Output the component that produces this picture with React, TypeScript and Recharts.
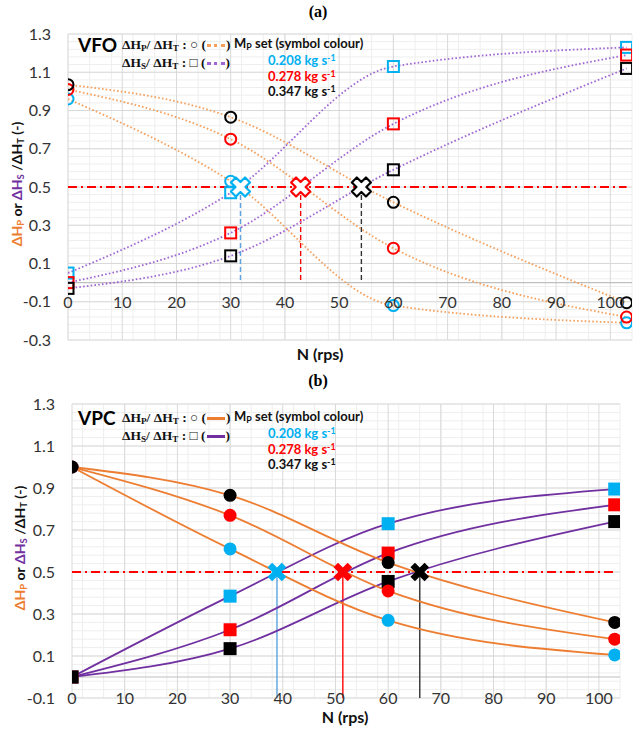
import React from 'react';
import {
  ComposedChart,
  Line,
  XAxis,
  YAxis,
  CartesianGrid,
  ReferenceLine,
  ReferenceDot,
} from 'recharts';

// Impeller speeds N (rps) at which each configuration was measured
const SPEEDS = [0, 30, 60, 103];

// Mass flow sets and their marker colours
const MASS_FLOWS = ['0.208', '0.278', '0.347'];
const MARKER_COLOURS = ['#00B0F0', '#FF0000', '#000000'];

// VFO: ΔHp/ΔHT per mass flow
const vfoHp208 = [0.96, 0.53, -0.12, -0.21];
const vfoHp278 = [1.01, 0.75, 0.18, -0.18];
const vfoHp347 = [1.035, 0.865, 0.42, -0.105];
// VFO: ΔHs/ΔHT per mass flow
const vfoHs208 = [0.05, 0.47, 1.13, 1.23];
const vfoHs278 = [0.0, 0.26, 0.83, 1.19];
const vfoHs347 = [-0.03, 0.14, 0.59, 1.12];
// VFO: speeds where ΔHp = ΔHs = 0.5 ΔHT
const vfoCrossings = [31.8, 42.9, 54.1];

// VPC: ΔHp/ΔHT per mass flow
const vpcHp208 = [1.0, 0.61, 0.27, 0.105];
const vpcHp278 = [1.0, 0.77, 0.41, 0.18];
const vpcHp347 = [1.0, 0.865, 0.545, 0.26];
// VPC: ΔHs/ΔHT per mass flow
const vpcHs208 = [0.0, 0.385, 0.73, 0.895];
const vpcHs278 = [0.0, 0.225, 0.59, 0.82];
const vpcHs347 = [0.0, 0.135, 0.455, 0.74];
// VPC: speeds where ΔHp = ΔHs = 0.5 ΔHT
const vpcCrossings = [38.9, 51.4, 66.0];

const HALF_SPLIT = 0.5;
const X_TICKS = [0, 10, 20, 30, 40, 50, 60, 70, 80, 90, 100];
const VFO_Y_TICKS = [-0.3, -0.1, 0.1, 0.3, 0.5, 0.7, 0.9, 1.1, 1.3];
const VPC_Y_TICKS = [-0.1, 0.1, 0.3, 0.5, 0.7, 0.9, 1.1, 1.3];
const X_DOMAIN: [number, number] = [0, 104];

const ORANGE_DOTTED = '#F4A05C';
const PURPLE_DOTTED = '#A066D3';
const ORANGE = '#ED7D31';
const PURPLE = '#7030A0';
const DROP_COLOURS = ['#5BA3E0', '#FF0000', '#333333'];

const SANS = 'Lato, "Open Sans", sans-serif';
const SERIF = '"Liberation Serif", "DejaVu Serif", serif';

const range = (start: number, end: number, step: number) => {
  const out: number[] = [];
  for (let i = 0; start + i * step <= end + 1e-9; i++) out.push(+(start + i * step).toFixed(4));
  return out;
};

const buildRows = (hp: number[][], hs: number[][]) =>
  SPEEDS.map((n, i) => ({
    n,
    hp0: hp[0][i],
    hp1: hp[1][i],
    hp2: hp[2][i],
    hs0: hs[0][i],
    hs1: hs[1][i],
    hs2: hs[2][i],
  }));

const vfoRows = buildRows([vfoHp208, vfoHp278, vfoHp347], [vfoHs208, vfoHs278, vfoHs347]);
const vpcRows = buildRows([vpcHp208, vpcHp278, vpcHp347], [vpcHs208, vpcHs278, vpcHs347]);

const circleDot = (colour: string, filled: boolean) => (p: any) => (
  <circle
    key={`c-${p.index}`}
    cx={p.cx}
    cy={p.cy}
    r={filled ? 6.5 : 5.5}
    fill={filled ? colour : 'none'}
    stroke={colour}
    strokeWidth={filled ? 0 : 2}
  />
);

const squareDot = (colour: string, filled: boolean) => (p: any) => {
  const s = filled ? 13 : 11;
  return (
    <rect
      key={`s-${p.index}`}
      x={p.cx - s / 2}
      y={p.cy - s / 2}
      width={s}
      height={s}
      fill={filled ? colour : 'none'}
      stroke={colour}
      strokeWidth={filled ? 0 : 2}
    />
  );
};

// thick "x" marker built from a rotated plus outline
const crossPath = (L: number, w: number) =>
  `M${w},${L} L${w},${w} L${L},${w} L${L},${-w} L${w},${-w} L${w},${-L} L${-w},${-L} L${-w},${-w} L${-L},${-w} L${-L},${w} L${-w},${w} L${-w},${L} Z`;

const crossShape = (colour: string, filled: boolean) => (p: any) => (
  <path
    d={crossPath(filled ? 10 : 10, filled ? 3.2 : 3.5)}
    transform={`translate(${p.cx},${p.cy}) rotate(45)`}
    fill={filled ? colour : '#ffffff'}
    stroke={colour}
    strokeWidth={filled ? 0 : 2.2}
    strokeLinejoin="round"
  />
);

const xTickLabel = (label: number) => (p: any) => (
  <text
    x={p.cx}
    y={p.cy}
    dy={6}
    textAnchor="middle"
    fill="#333"
    fontSize={16}
    fontFamily={SANS}
  >
    {label}
  </text>
);

type PanelProps = {
  rows: any[];
  yDomain: [number, number];
  yTicks: number[];
  crossings: number[];
  height: number;
  margin: { top: number; right: number; bottom: number; left: number };
  yAxisWidth: number;
  solid: boolean;
  dropTo: number;
};

function Panel({ rows, yDomain, yTicks, crossings, height, margin, yAxisWidth, solid, dropTo }: PanelProps) {
  const minorY = range(yDomain[0], yDomain[1], 0.04);
  const majorY = yTicks;
  const minorX = range(X_DOMAIN[0], X_DOMAIN[1], 2);
  const hpColour = solid ? ORANGE : ORANGE_DOTTED;
  const hsColour = solid ? PURPLE : PURPLE_DOTTED;
  const dash = solid ? undefined : '1.6 2.2';

  return (
    <ComposedChart width={636} height={height} data={rows} margin={margin}>
      <CartesianGrid
        stroke="#eeeeee"
        horizontalValues={minorY}
        verticalValues={minorX}
        syncWithTicks={false}
      />
      <CartesianGrid
        stroke="#d9d9d9"
        fill="none"
        horizontalValues={majorY}
        verticalValues={X_TICKS}
        syncWithTicks={false}
      />
      <XAxis type="number" dataKey="n" domain={X_DOMAIN} ticks={X_TICKS} hide allowDataOverflow />
      <YAxis
        type="number"
        domain={yDomain}
        ticks={yTicks}
        interval={0}
        width={yAxisWidth}
        axisLine={false}
        tickLine={false}
        tickSize={0}
        tickMargin={17}
        allowDataOverflow
        tickFormatter={(v: number) => v.toFixed(1)}
        tick={{ fill: '#333', fontSize: 16, fontFamily: SANS }}
      />
      <ReferenceLine y={0} stroke="#bfbfbf" strokeWidth={1.2} />
      <ReferenceLine
        segment={[
          { x: 0, y: HALF_SPLIT },
          { x: SPEEDS[SPEEDS.length - 1], y: HALF_SPLIT },
        ]}
        stroke="#FF0000"
        strokeWidth={1.8}
        strokeDasharray="9 4 2 4"
      />
      {crossings.map((n, i) => (
        <ReferenceLine
          key={`drop-${i}`}
          segment={[
            { x: n, y: HALF_SPLIT },
            { x: n, y: dropTo },
          ]}
          stroke={DROP_COLOURS[i]}
          strokeWidth={1.4}
          strokeDasharray={solid ? undefined : '5 3'}
        />
      ))}
      {[0, 1, 2].map((i) => (
        <Line
          key={`hs${i}`}
          dataKey={`hs${i}`}
          type="monotone"
          stroke={hsColour}
          strokeWidth={1.8}
          strokeDasharray={dash}
          dot={squareDot(MARKER_COLOURS[i], solid)}
          activeDot={false}
          isAnimationActive={false}
        />
      ))}
      {[0, 1, 2].map((i) => (
        <Line
          key={`hp${i}`}
          dataKey={`hp${i}`}
          type="monotone"
          stroke={hpColour}
          strokeWidth={1.8}
          strokeDasharray={dash}
          dot={circleDot(MARKER_COLOURS[i], solid)}
          activeDot={false}
          isAnimationActive={false}
        />
      ))}
      {crossings.map((n, i) => (
        <ReferenceDot key={`x-${i}`} x={n} y={HALF_SPLIT} r={0} shape={crossShape(MARKER_COLOURS[i], solid)} />
      ))}
      {X_TICKS.map((t) => (
        <ReferenceDot key={`t-${t}`} x={t} y={-0.1} r={0} shape={xTickLabel(t)} />
      ))}
    </ComposedChart>
  );
}

const abs = (left: number, top: number, extra: React.CSSProperties = {}): React.CSSProperties => ({
  position: 'absolute',
  left,
  top,
  whiteSpace: 'nowrap',
  lineHeight: 1,
  ...extra,
});

const sub: React.CSSProperties = { fontSize: '68%', verticalAlign: '-0.25em', lineHeight: 0 };
const sup: React.CSSProperties = { fontSize: '68%', verticalAlign: '0.45em', lineHeight: 0 };

function Sample({ colour, solid }: { colour: string; solid: boolean }) {
  return (
    <span
      style={{
        display: 'inline-block',
        width: 18,
        height: 0,
        borderTop: `3px ${solid ? 'solid' : 'dotted'} ${colour}`,
        verticalAlign: 'middle',
        margin: '0 1px',
      }}
    />
  );
}

function Legend({ top, name, solid }: { top: number; name: string; solid: boolean }) {
  const serif: React.CSSProperties = { fontFamily: SERIF, fontWeight: 700, fontSize: 13.5, color: '#111' };
  const sans: React.CSSProperties = { fontFamily: SANS, fontWeight: 700, fontSize: 13, color: '#111' };
  return (
    <>
      <div style={abs(78, top - 10, { fontFamily: SANS, fontWeight: 700, fontSize: 19, color: '#000' })}>{name}</div>
      <div style={abs(122, top - 7, serif)}>
        ΔH<span style={sub}>P</span>/ ΔH<span style={sub}>T</span> : ○ (
        <Sample colour={solid ? ORANGE : ORANGE_DOTTED} solid={solid} />)
      </div>
      <div style={abs(122, top + 11, serif)}>
        ΔH<span style={sub}>S</span>/ ΔH<span style={sub}>T</span> : □ (
        <Sample colour={solid ? PURPLE : PURPLE_DOTTED} solid={solid} />)
      </div>
      <div style={abs(234, top - 8, sans)}>
        M<span style={sub}>P</span> set (symbol colour)
      </div>
      {MASS_FLOWS.map((m, i) => (
        <div
          key={m}
          style={abs(268, top + 9 + i * 15.5, { ...sans, color: MARKER_COLOURS[i] === '#000000' ? '#111' : MARKER_COLOURS[i] })}
        >
          {m} kg s<span style={sup}>-1</span>
        </div>
      ))}
    </>
  );
}

function YTitle({ cx, cy }: { cx: number; cy: number }) {
  return (
    <div
      style={abs(cx, cy, {
        transform: 'translate(-50%, -50%) rotate(-90deg)',
        fontFamily: SANS,
        fontWeight: 700,
        fontSize: 14,
        color: '#111',
      })}
    >
      <span style={{ color: ORANGE }}>
        ΔH<span style={sub}>P</span>
      </span>{' '}
      or{' '}
      <span style={{ color: PURPLE }}>
        ΔH<span style={sub}>S</span>
      </span>{' '}
      /ΔH<span style={sub}>T</span> (-)
    </div>
  );
}

export default function App() {
  const title: React.CSSProperties = {
    fontFamily: SERIF,
    fontWeight: 700,
    fontSize: 16,
    color: '#000',
    transform: 'translate(-50%, -50%)',
  };
  const axisTitle: React.CSSProperties = {
    fontFamily: SANS,
    fontWeight: 700,
    fontSize: 16,
    color: '#111',
    transform: 'translate(-50%, -50%)',
  };
  return (
    <div style={{ position: 'absolute', left: 0, top: 0, width: 636, height: 729, background: '#fff', overflow: 'hidden' }}>
      <div style={abs(0, 0)}>
        <Panel
          rows={vfoRows}
          yDomain={[-0.3, 1.3]}
          yTicks={VFO_Y_TICKS}
          crossings={vfoCrossings}
          height={365}
          margin={{ top: 34, right: 4, bottom: 25, left: 0 }}
          yAxisWidth={68}
          solid={false}
          dropTo={0}
        />
      </div>
      <div style={abs(0, 365)}>
        <Panel
          rows={vpcRows}
          yDomain={[-0.1, 1.3]}
          yTicks={VPC_Y_TICKS}
          crossings={vpcCrossings}
          height={364}
          margin={{ top: 39, right: 16, bottom: 31, left: 0 }}
          yAxisWidth={72}
          solid={true}
          dropTo={-0.1}
        />
      </div>
      <div style={abs(318, 12, title)}>(a)</div>
      <div style={abs(318, 381, title)}>(b)</div>
      <div style={abs(320, 354, axisTitle)}>N (rps)</div>
      <div style={abs(345, 717, axisTitle)}>N (rps)</div>
      <YTitle cx={17} cy={184} />
      <YTitle cx={20} cy={548} />
      <Legend top={45} name="VFO" solid={false} />
      <Legend top={418} name="VPC" solid={true} />
    </div>
  );
}
